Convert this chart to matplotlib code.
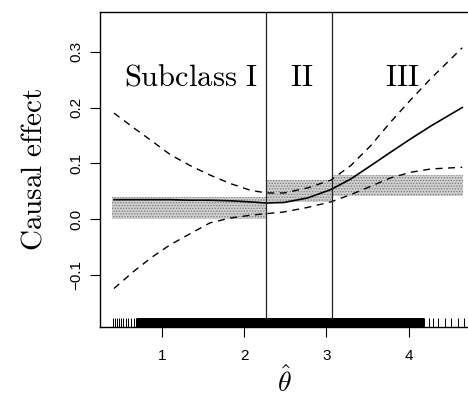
import matplotlib
matplotlib.use('Agg')
import matplotlib.pyplot as plt

plt.rcParams['mathtext.fontset'] = 'cm'
plt.rcParams['font.family'] = ['Liberation Sans', 'DejaVu Sans']
plt.rcParams['hatch.linewidth'] = 0.6

# estimated curve and pointwise bounds
theta = [0.42, 0.655, 0.88, 1.10, 1.344, 1.587, 1.83, 2.073, 2.27, 2.486,
         2.77, 3.053, 3.296, 3.54, 3.78, 4.025, 4.27, 4.65]
effect = [0.035, 0.035, 0.035, 0.035, 0.034, 0.034, 0.033, 0.031, 0.029, 0.030,
          0.038, 0.053, 0.072, 0.096, 0.120, 0.144, 0.167, 0.200]
upper = [0.190, 0.164, 0.140, 0.116, 0.096, 0.079, 0.064, 0.052, 0.047, 0.047,
         0.056, 0.070, 0.096, 0.132, 0.174, 0.214, 0.252, 0.307]
lower = [-0.124, -0.094, -0.068, -0.046, -0.026, -0.0065, 0.002, 0.007, 0.010, 0.013,
         0.021, 0.031, 0.044, 0.059, 0.074, 0.084, 0.090, 0.093]

# subclasses
cuts = [0.39, 2.267, 3.065, 4.66]
band_low = [0.0, 0.031, 0.042]
band_high = [0.04, 0.071, 0.080]
sub_names = [r'$\mathrm{Subclass\ I}$', r'$\mathrm{II}$', r'$\mathrm{III}$']
sub_x = [1.356, 2.70, 3.916]

# observed theta-hat (rug)
rug_sparse = [0.41, 0.433, 0.458, 0.482, 0.506, 0.531, 0.567, 0.591, 0.628, 0.664, 0.688,
              4.19, 4.248, 4.30, 4.353, 4.442, 4.515, 4.604, 4.673]
rug_dense = [0.72, 0.75, 0.79, 0.82, 0.86, 0.89, 0.93, 0.96, 1.0, 1.03, 1.07, 1.1, 1.14,
             1.17, 1.21, 1.24, 1.28, 1.31, 1.35, 1.38, 1.42, 1.45, 1.49, 1.52, 1.56, 1.59,
             1.63, 1.66, 1.7, 1.73, 1.77, 1.8, 1.84, 1.87, 1.91, 1.94, 1.98, 2.01, 2.05,
             2.08, 2.12, 2.15, 2.19, 2.22, 2.26, 2.29, 2.33, 2.36, 2.4, 2.43, 2.47, 2.5,
             2.54, 2.57, 2.61, 2.64, 2.68, 2.71, 2.75, 2.78, 2.82, 2.85, 2.89, 2.92, 2.96,
             2.99, 3.03, 3.06, 3.1, 3.13, 3.17, 3.2, 3.24, 3.27, 3.31, 3.34, 3.38, 3.41,
             3.45, 3.48, 3.52, 3.55, 3.59, 3.62, 3.66, 3.69, 3.73, 3.76, 3.8, 3.83, 3.87,
             3.9, 3.94, 3.97, 4.01, 4.04, 4.08, 4.11, 4.14, 4.16]

fig = plt.figure(figsize=(4.68, 4.03), dpi=100)
ax = fig.add_axes([100 / 468, 76 / 403, 368 / 468, 315 / 403])
ax.set_xlim(0.25, 4.72)
ax.set_ylim(-0.193, 0.371)

for i in range(3):
    ax.fill_between([cuts[i], cuts[i + 1]], band_low[i], band_high[i],
                    facecolor='#cfcfcf', edgecolor='#7a7a7a', hatch='......', lw=0)

ax.plot(theta, effect, color='black', lw=1.2)
ax.plot(theta, upper, color='black', lw=1.0, ls=(0, (5, 4)))
ax.plot(theta, lower, color='black', lw=1.0, ls=(0, (5, 4)))

for c in cuts[1:3]:
    ax.axvline(c, color='#222222', lw=0.9)

for name, x in zip(sub_names, sub_x):
    ax.text(x, 0.239, name, fontsize=22, ha='center', va='baseline')

ax.vlines(rug_sparse, -0.193, -0.177, color='black', lw=0.7)
ax.vlines(rug_dense, -0.193, -0.177, color='black', lw=3.2, capstyle='butt')

ax.spines['right'].set_visible(False)
for s in ['left', 'top', 'bottom']:
    ax.spines[s].set_linewidth(1.0)

ax.set_xticks([1, 2, 3, 4])
ax.set_yticks([-0.1, 0.0, 0.1, 0.2, 0.3])
ax.set_yticklabels(['\u22120.1', '0.0', '0.1', '0.2', '0.3'], rotation=90, va='center')
ax.tick_params(direction='out', length=7, width=0.8, labelsize=11)
ax.tick_params(axis='x', pad=9)
ax.tick_params(axis='y', pad=5)

ax.set_xlabel(r'$\hat{\theta}$', fontsize=20, labelpad=2)
ax.set_ylabel(r'$\mathrm{Causal\ effect}$', fontsize=21, labelpad=16)

fig.savefig('out.png', dpi=100)
